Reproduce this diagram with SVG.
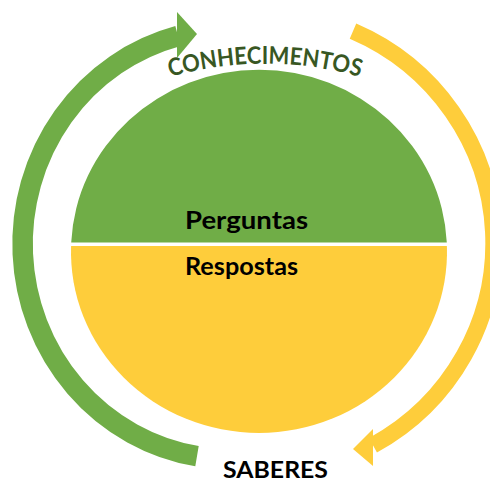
<svg xmlns="http://www.w3.org/2000/svg" width="490" height="482" viewBox="0 0 490 482">
  <style>
    .green { fill: #70AD47; }
    .yellow { fill: #FECD3B; }
    .garc { fill: none; stroke: #70AD47; stroke-width: 20.5; stroke-linecap: butt; }
    .yarc { fill: none; stroke: #FECD3B; stroke-width: 16.5; stroke-linecap: butt; }
    .inner { font-family: Lato, "Liberation Sans", sans-serif; font-size: 25px; font-weight: bold; fill: #000000; }
    .label { font-family: Lato, "Liberation Sans", sans-serif; font-weight: bold; }
  </style>
  <defs>
    <path id="topArc" d="M160,80 A343,343 0 0 1 370,80"/>
  </defs>
  <rect width="490" height="482" fill="#ffffff"/>

  <g id="connectors">
    <g id="green-arrow">
      <path class="garc" d="M197,456.2 A208,215 0 0 1 178,36"/>
      <polygon class="green" points="177,12 197,34 177,58"/>
    </g>
    <g id="yellow-arrow">
      <path class="yarc" d="M353,31.1 A233.5,231 0 0 1 373,445.2"/>
      <polygon class="yellow" points="373,429 353,449 373,466"/>
    </g>
  </g>

  <g id="node-perguntas">
    <path class="green" d="M71.2,242.5 A188,181 0 0 1 446.8,242.5 Z"/>
    <text class="inner" x="185" y="229" textLength="123" lengthAdjust="spacingAndGlyphs">Perguntas</text>
  </g>

  <g id="node-respostas">
    <path class="yellow" d="M71.1,246 A188,181 0 1 0 446.9,246 Z"/>
    <text class="inner" x="185" y="275" textLength="113" lengthAdjust="spacingAndGlyphs">Respostas</text>
  </g>

  <g id="node-conhecimentos">
    <text class="label" font-size="24" fill="#385723" text-anchor="middle"><textPath href="#topArc" startOffset="50%" textLength="192" lengthAdjust="spacingAndGlyphs">CONHECIMENTOS</textPath></text>
  </g>

  <g id="node-saberes">
    <text class="label" x="275.5" y="478" font-size="23" fill="#000000" text-anchor="middle" textLength="105" lengthAdjust="spacingAndGlyphs">SABERES</text>
  </g>
</svg>
